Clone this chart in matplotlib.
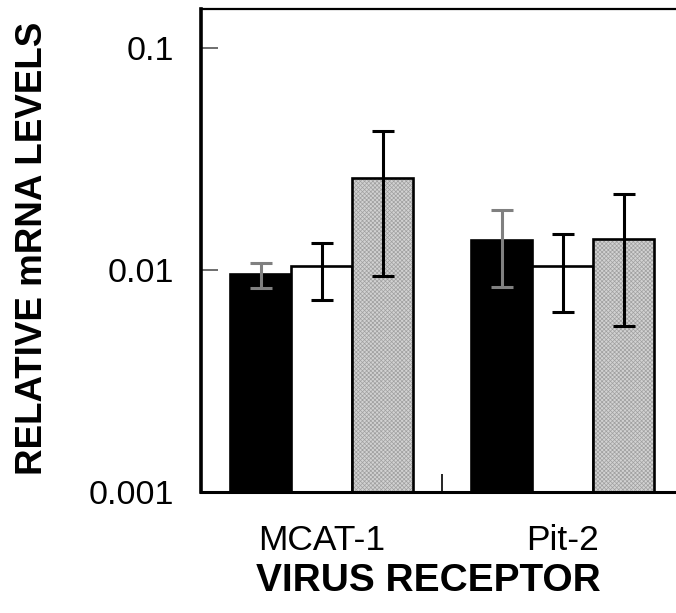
import numpy as np
import matplotlib
matplotlib.use("Agg")
import matplotlib.pyplot as plt
from matplotlib.ticker import FixedLocator, NullFormatter, NullLocator

plt.rcParams['font.family'] = ['Liberation Sans', 'DejaVu Sans']
plt.rcParams['hatch.linewidth'] = 0.5

# relative mRNA levels per receptor, three samples each
receptors = ['MCAT-1', 'Pit-2']
black_vals = [0.0096, 0.0136]
black_lo = [0.0083, 0.0084]
black_hi = [0.0107, 0.0186]
white_vals = [0.0104, 0.0104]
white_lo = [0.0073, 0.0065]
white_hi = [0.0132, 0.0145]
gray_vals = [0.0259, 0.0138]
gray_lo = [0.0094, 0.0056]
gray_hi = [0.0424, 0.0220]

x = np.arange(len(receptors))
w = 0.253

fig = plt.figure(figsize=(6.76, 6.13), dpi=100)
ax = fig.add_axes([0.297, 0.197, 0.703, 0.788])

def errs(v, lo, hi):
    v = np.array(v)
    return [v - np.array(lo), np.array(hi) - v]

ekw = dict(elinewidth=2.2, capthick=2.2, capsize=8, fmt='none', zorder=4)

ax.bar(x - w, black_vals, w, color='black', edgecolor='black', linewidth=1.9, zorder=2)
ax.errorbar(x - w, black_vals, yerr=errs(black_vals, black_lo, black_hi),
            ecolor='#808080', **ekw)

ax.bar(x, white_vals, w, color='white', edgecolor='black', linewidth=1.9, zorder=2)
ax.errorbar(x, white_vals, yerr=errs(white_vals, white_lo, white_hi),
            ecolor='black', **ekw)

# fine textured gray fill, then a black outline on top
ax.bar(x + w, gray_vals, w, color='#d2d2d2', edgecolor='#a0a0a0', hatch='xxxxxxxx',
       linewidth=0, zorder=2)
ax.bar(x + w, gray_vals, w, fill=False, edgecolor='black', linewidth=1.9, zorder=3)
ax.errorbar(x + w, gray_vals, yerr=errs(gray_vals, gray_lo, gray_hi),
            ecolor='black', **ekw)

ax.set_yscale('log')
ax.set_ylim(0.001, 0.149)
ax.set_xlim(-0.502, 1.469)

ax.yaxis.set_major_locator(FixedLocator([0.001, 0.01, 0.1]))
ax.yaxis.set_minor_locator(NullLocator())
ax.set_yticklabels(['0.001', '0.01', '0.1'])
ax.tick_params(axis='y', which='major', direction='in', length=12, width=1.2,
               color='#555555', labelsize=24.5, pad=19)

ax.xaxis.set_major_locator(FixedLocator([0.5]))
ax.xaxis.set_major_formatter(NullFormatter())
ax.xaxis.set_minor_locator(FixedLocator(x))
ax.set_xticklabels(receptors, minor=True)
ax.tick_params(axis='x', which='major', direction='in', length=13, width=1.2)
ax.tick_params(axis='x', which='minor', length=0, labelsize=25.5, pad=23)

ax.spines['right'].set_visible(False)
ax.spines['left'].set_linewidth(2.6)
ax.spines['bottom'].set_linewidth(2.2)
ax.spines['top'].set_linewidth(1.6)

ax.set_ylabel('RELATIVE mRNA LEVELS', fontsize=26.5, fontweight='bold')
ax.yaxis.set_label_coords(-0.318, 0.505)
ax.set_xlabel('VIRUS RECEPTOR', fontsize=28, fontweight='bold')
ax.xaxis.set_label_coords(0.478, -0.146)

fig.savefig('out.png', dpi=100)
